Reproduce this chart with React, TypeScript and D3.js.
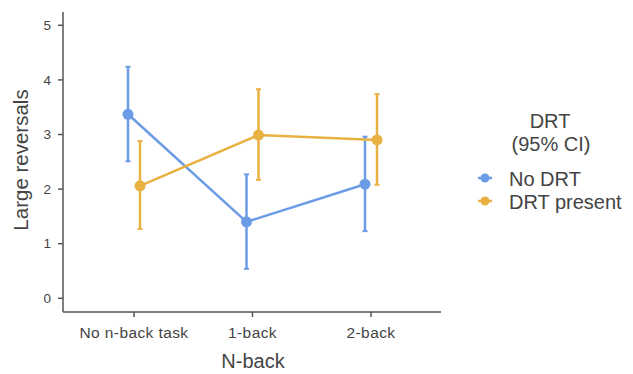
import React from 'react';
import * as d3 from 'd3';

const categories = ['No n-back task', '1-back', '2-back'];
const seriesNames = ['No DRT', 'DRT present'];
const seriesColors = ['#6c9ce6', '#e8b142'];
// mean, lower CI, upper CI for each category
const noDrtMean = [3.37, 1.4, 2.09];
const noDrtLower = [2.51, 0.54, 1.23];
const noDrtUpper = [4.24, 2.27, 2.96];
const drtMean = [2.06, 2.99, 2.9];
const drtLower = [1.27, 2.17, 2.08];
const drtUpper = [2.88, 3.83, 3.74];
const yTicks = [0, 1, 2, 3, 4, 5];

export default function App() {
    const width = 633;
    const height = 374;
    const x0 = 63, x1 = 441;
    const yAxisTop = 12, yAxisBottom = 312;

    const x = d3.scalePoint<string>().domain(categories).range([134, 371]);
    const y = d3.scaleLinear().domain([0, 5]).range([298.3, 25.3]);
    const dodge = d3.scalePoint<string>().domain(seriesNames).range([-6, 6]);

    const series = [
        { name: seriesNames[0], color: seriesColors[0], mean: noDrtMean, lo: noDrtLower, hi: noDrtUpper },
        { name: seriesNames[1], color: seriesColors[1], mean: drtMean, lo: drtLower, hi: drtUpper },
    ];

    const line = d3.line<[number, number]>().x(d => d[0]).y(d => d[1]);
    const font = 'Liberation Sans, Arial, sans-serif';

    return (
        <svg width={width} height={height} style={{ position: 'absolute', left: 0, top: 0, background: '#fff' }}>
            {/* axes */}
            <g stroke="#555" strokeWidth={1.5} fill="none">
                <line x1={x0} x2={x0} y1={yAxisTop} y2={yAxisBottom} />
                <line x1={x0} x2={x1} y1={yAxisBottom} y2={yAxisBottom} />
                {yTicks.map(t => <line key={t} x1={x0 - 5} x2={x0} y1={y(t)} y2={y(t)} />)}
                {categories.map(c => <line key={c} x1={x(c)} x2={x(c)} y1={yAxisBottom} y2={yAxisBottom + 5} />)}
            </g>
            <g fontFamily={font} fill="#444">
                {yTicks.map(t => (
                    <text key={t} x={51} y={y(t)} dy="0.35em" textAnchor="end" fontSize={13.5}>{t}</text>
                ))}
                {categories.map(c => (
                    <text key={c} x={x(c)} y={333} dy="0.35em" textAnchor="middle" fontSize={15.5} letterSpacing={0.4}>{c}</text>
                ))}
            </g>
            <text x={253} y={368} fontFamily={font} fontSize={20} fill="#444" textAnchor="middle">N-back</text>
            <text transform={`translate(28,${160}) rotate(-90)`} fontFamily={font} fontSize={20.5} fill="#444" textAnchor="middle">Large reversals</text>

            {/* series */}
            {series.map(s => {
                const pts = categories.map((c, i) => [(x(c) as number) + (dodge(s.name) as number), y(s.mean[i])] as [number, number]);
                return (
                    <g key={s.name} stroke={s.color} fill={s.color}>
                        <path d={line(pts) || ''} fill="none" strokeWidth={2.5} />
                        {categories.map((c, i) => {
                            const cx = (x(c) as number) + (dodge(s.name) as number);
                            return (
                                <g key={c}>
                                    <line x1={cx} x2={cx} y1={y(s.lo[i])} y2={y(s.hi[i])} strokeWidth={2.5} />
                                    <line x1={cx - 2.5} x2={cx + 2.5} y1={y(s.lo[i])} y2={y(s.lo[i])} strokeWidth={2} />
                                    <line x1={cx - 2.5} x2={cx + 2.5} y1={y(s.hi[i])} y2={y(s.hi[i])} strokeWidth={2} />
                                    <circle cx={cx} cy={y(s.mean[i])} r={5.5} stroke="none" />
                                </g>
                            );
                        })}
                    </g>
                );
            })}

            {/* legend */}
            <g fontFamily={font} fontSize={20} fill="#444">
                <text x={550} y={128} textAnchor="middle">DRT</text>
                <text x={551} y={151} textAnchor="middle">(95% CI)</text>
                {series.map((s, i) => (
                    <g key={s.name} transform={`translate(485,${178 + i * 23})`}>
                        <line x1={-7} x2={7} y1={0} y2={0} stroke={s.color} strokeWidth={2.5} />
                        <circle r={4.5} fill={s.color} />
                        <text x={24} y={7.5}>{s.name}</text>
                    </g>
                ))}
            </g>
        </svg>
    );
}
